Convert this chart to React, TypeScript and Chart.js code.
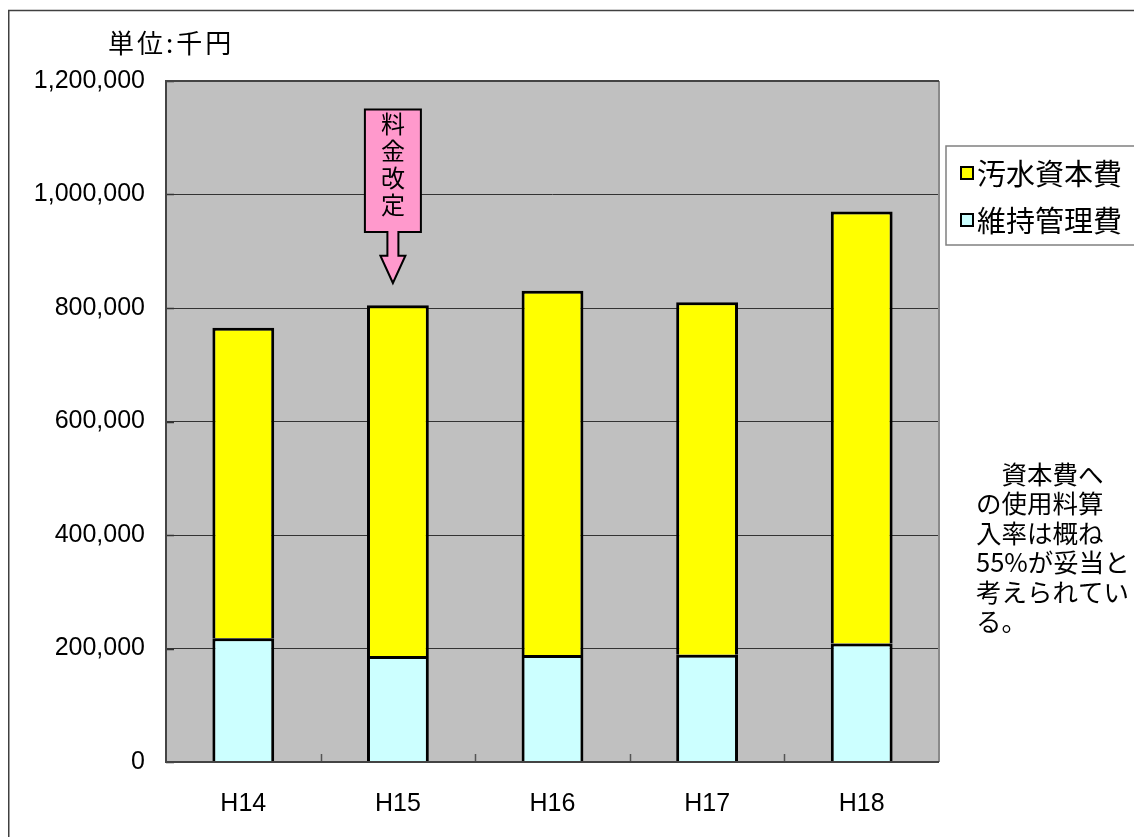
import React, { useEffect, useRef } from "react";
import { Chart, registerables } from "chart.js";

Chart.register(...registerables);

const categories = ["H14", "H15", "H16", "H17", "H18"];
const maintenanceCost = [218000, 187000, 188500, 189000, 209000];
const capitalCost = [547000, 618000, 642000, 621000, 761000];
const seriesLabels = ["維持管理費", "汚水資本費"];
const seriesColors = ["#CCFFFF", "#FFFF00"];
const unitTitle = "単位:千円";
const noteLines = ["　資本費へ", "の使用料算", "入率は概ね", "55%が妥当と", "考えられてい", "る。"];
const calloutText = ["料", "金", "改", "定"];
const calloutCategory = 1;
const calloutValues = [1150000, 934000, 892000, 844000];

const CJK = '"Noto Sans CJK JP", "Noto Sans", sans-serif';
const LATIN = '"Liberation Sans", Arial, sans-serif';

const decor = {
  id: "decor",
  beforeDraw(chart: any) {
    const { ctx, chartArea: a } = chart;
    ctx.save();
    ctx.fillStyle = "#C0C0C0";
    ctx.fillRect(a.left, a.top, a.right - a.left, a.bottom - a.top);
    ctx.restore();
  },
  afterDatasetsDraw(chart: any) {
    const { ctx, chartArea: a } = chart;
    const xs = chart.scales.x;
    const ys = chart.scales.y;
    ctx.save();
    ctx.strokeStyle = "#333";
    ctx.lineWidth = 1.5;
    ys.ticks.forEach((t: any) => {
      const py = Math.round(ys.getPixelForValue(t.value)) + 0.5;
      ctx.beginPath();
      ctx.moveTo(a.left, py);
      ctx.lineTo(a.left + 8, py);
      ctx.stroke();
    });
    ctx.strokeStyle = "#555";
    for (let i = 1; i < categories.length; i++) {
      const px = Math.round((xs.getPixelForValue(i - 1) + xs.getPixelForValue(i)) / 2) + 0.5;
      ctx.beginPath();
      ctx.moveTo(px, a.bottom);
      ctx.lineTo(px, a.bottom - 8);
      ctx.stroke();
    }
    ctx.lineWidth = 2;
    ctx.strokeStyle = "#8a8a8a";
    ctx.beginPath();
    ctx.moveTo(a.right, a.top);
    ctx.lineTo(a.right, a.bottom);
    ctx.stroke();
    ctx.strokeStyle = "#444";
    ctx.beginPath();
    ctx.moveTo(a.right, a.top);
    ctx.lineTo(a.left, a.top);
    ctx.lineTo(a.left, a.bottom);
    ctx.lineTo(a.right, a.bottom);
    ctx.stroke();
    ctx.restore();
  },
  afterDraw(chart: any) {
    const { ctx, width, height } = chart;
    const xs = chart.scales.x;
    const ys = chart.scales.y;
    ctx.save();
    ctx.strokeStyle = "#404040";
    ctx.lineWidth = 1.5;
    ctx.beginPath();
    ctx.moveTo(0.75, height);
    ctx.lineTo(0.75, 2.5);
    ctx.lineTo(width, 2.5);
    ctx.stroke();

    ctx.fillStyle = "#000";
    ctx.font = `26px ${CJK}`;
    ctx.textBaseline = "middle";
    ctx.textAlign = "left";
    (ctx as any).letterSpacing = "3px";
    ctx.fillText(unitTitle, 100, 35);
    (ctx as any).letterSpacing = "0px";

    const lx = 938, ly = 138, lw = 191, lh = 99;
    ctx.fillStyle = "#fff";
    ctx.fillRect(lx, ly, lw, lh);
    ctx.strokeStyle = "#808080";
    ctx.lineWidth = 1.5;
    ctx.strokeRect(lx, ly, lw, lh);
    const order = [1, 0];
    order.forEach((di, row) => {
      const ds = chart.data.datasets[di];
      const cy = 165 + row * 47;
      ctx.fillStyle = ds.backgroundColor;
      ctx.fillRect(953, cy - 6, 12, 12);
      ctx.strokeStyle = "#000";
      ctx.lineWidth = 2;
      ctx.strokeRect(953, cy - 6, 12, 12);
      ctx.fillStyle = "#000";
      ctx.font = `29px ${CJK}`;
      ctx.textBaseline = "middle";
      ctx.fillText(ds.label, 969, cy + 1);
    });

    ctx.font = `25.5px ${CJK}`;
    ctx.fillStyle = "#000";
    noteLines.forEach((line, i) => {
      ctx.fillText(line, 968, 466 + i * 29.5);
    });

    const xc = xs.getPixelForValue(calloutCategory) - 5;
    const [vTop, vBox, vShaft, vTip] = calloutValues;
    const yTop = ys.getPixelForValue(vTop);
    const yBox = ys.getPixelForValue(vBox);
    const yShaft = ys.getPixelForValue(vShaft);
    const yTip = ys.getPixelForValue(vTip);
    ctx.beginPath();
    ctx.moveTo(xc - 28, yTop);
    ctx.lineTo(xc + 28, yTop);
    ctx.lineTo(xc + 28, yBox);
    ctx.lineTo(xc + 5.5, yBox);
    ctx.lineTo(xc + 5.5, yShaft);
    ctx.lineTo(xc + 12.5, yShaft);
    ctx.lineTo(xc, yTip);
    ctx.lineTo(xc - 12.5, yShaft);
    ctx.lineTo(xc - 5.5, yShaft);
    ctx.lineTo(xc - 5.5, yBox);
    ctx.lineTo(xc - 28, yBox);
    ctx.closePath();
    ctx.fillStyle = "#FF99CC";
    ctx.fill();
    ctx.strokeStyle = "#000";
    ctx.lineWidth = 2;
    ctx.lineJoin = "miter";
    ctx.stroke();
    ctx.fillStyle = "#000";
    ctx.font = `24px ${CJK}`;
    ctx.textAlign = "center";
    calloutText.forEach((ch, i) => {
      ctx.fillText(ch, xc, yTop + 14 + i * 27);
    });
    ctx.restore();
  },
};

export default function App() {
  const ref = useRef<HTMLCanvasElement>(null);
  useEffect(() => {
    document.body.style.overflow = "hidden";
    document.documentElement.style.overflow = "hidden";
    const canvas = ref.current;
    if (!canvas) return;
    const chart = new Chart(canvas, {
      type: "bar",
      data: {
        labels: categories,
        datasets: [
          {
            label: seriesLabels[0],
            data: maintenanceCost,
            backgroundColor: seriesColors[0],
            borderColor: "#000",
            borderWidth: 3,
          },
          {
            label: seriesLabels[1],
            data: capitalCost,
            backgroundColor: seriesColors[1],
            borderColor: "#000",
            borderWidth: 3,
          },
        ],
      },
      options: {
        responsive: false,
        animation: false,
        devicePixelRatio: 1,
        layout: { padding: { left: 0, right: 203, top: 73, bottom: 0 } },
        datasets: { bar: { barPercentage: 0.4, categoryPercentage: 1 } },
        plugins: {
          legend: { display: false },
          title: { display: false },
          tooltip: { enabled: false },
        },
        scales: {
          x: {
            stacked: true,
            grid: { display: false },
            border: { display: false },
            ticks: {
              color: "#000",
              font: { family: LATIN, size: 25 },
              padding: 19,
              maxRotation: 0,
            },
            afterFit: (s: any) => {
              s.height = 75;
            },
          },
          y: {
            stacked: true,
            min: 0,
            max: 1200000,
            grid: { color: "#333", lineWidth: 1, drawTicks: false },
            border: { display: false },
            ticks: {
              stepSize: 200000,
              color: "#000",
              font: { family: LATIN, size: 25 },
              padding: 21,
              callback: (v: any) => Number(v).toLocaleString("en-US"),
            },
            afterFit: (s: any) => {
              s.width = 158;
            },
          },
        },
      },
      plugins: [decor],
    });
    return () => chart.destroy();
  }, []);
  return (
    <canvas
      ref={ref}
      width={1134}
      height={829}
      style={{ display: "block", width: 1134, height: 829 }}
    />
  );
}
